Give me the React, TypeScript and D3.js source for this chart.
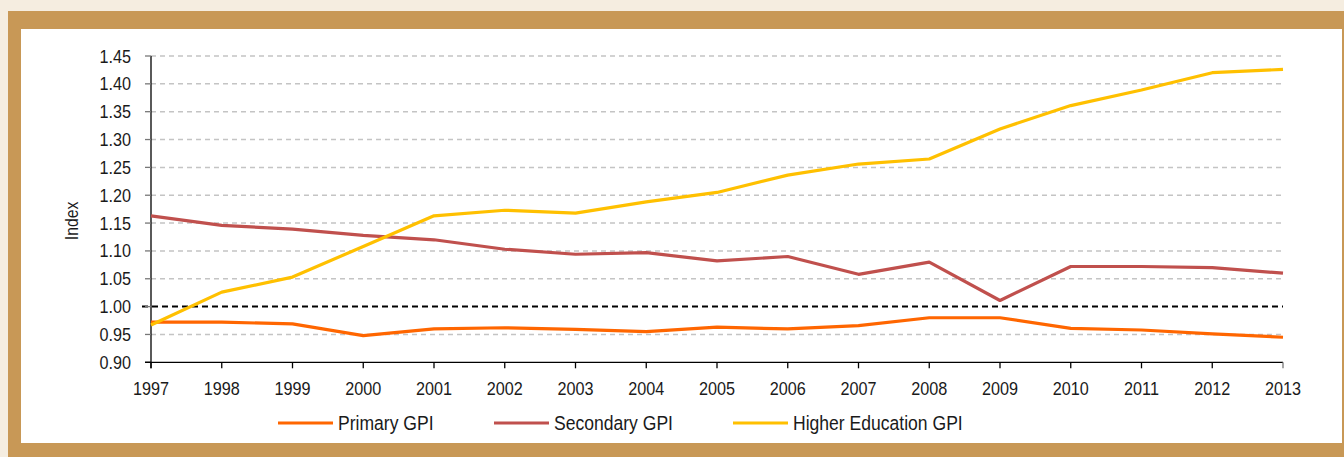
import React from "react";
import * as d3 from "d3";

// Gender parity index by education level
const years = [1997, 1998, 1999, 2000, 2001, 2002, 2003, 2004, 2005, 2006, 2007, 2008, 2009, 2010, 2011, 2012, 2013];
const primaryGPI = [0.972, 0.972, 0.969, 0.948, 0.960, 0.962, 0.959, 0.955, 0.963, 0.960, 0.966, 0.980, 0.980, 0.961, 0.958, 0.951, 0.945];
const secondaryGPI = [1.163, 1.146, 1.139, 1.128, 1.120, 1.103, 1.094, 1.097, 1.082, 1.090, 1.058, 1.080, 1.011, 1.072, 1.072, 1.070, 1.060];
const higherGPI = [0.967, 1.026, 1.053, 1.108, 1.163, 1.173, 1.168, 1.188, 1.205, 1.236, 1.256, 1.265, 1.319, 1.361, 1.389, 1.420, 1.426];
const yTicks = [0.9, 0.95, 1.0, 1.05, 1.1, 1.15, 1.2, 1.25, 1.3, 1.35, 1.4, 1.45];

const series = [
  { name: "Primary GPI", values: primaryGPI, color: "#FF6600" },
  { name: "Secondary GPI", values: secondaryGPI, color: "#C0504D" },
  { name: "Higher Education GPI", values: higherGPI, color: "#FFC000" },
];

const W = 1344;
const H = 457;
const plot = { left: 151, right: 1283, top: 56, bottom: 362.3 };
const font = "'Liberation Sans', Arial, sans-serif";
const textColor = "#1a1a1a";

// Slightly condensed text, placed at (x, y)
function Label(props: {
  x: number;
  y: number;
  size: number;
  anchor?: string;
  rotate?: number;
  sx?: number;
  children: React.ReactNode;
}) {
  const { x, y, size, anchor = "start", rotate = 0, sx = 0.9, children } = props;
  return (
    <text
      transform={`translate(${x},${y}) rotate(${rotate}) scale(${sx},1)`}
      textAnchor={anchor}
      fontSize={size}
      fill={textColor}
    >
      {children}
    </text>
  );
}

export default function App() {
  const x = d3.scaleLinear().domain([years[0], years[years.length - 1]]).range([plot.left, plot.right]);
  const y = d3.scaleLinear().domain([0.9, 1.45]).range([plot.bottom, plot.top]);
  const line = d3
    .line<number>()
    .x((_, i) => x(years[i]))
    .y((d) => y(d));

  const legendX = [278, 494, 733];

  return (
    <svg
      width={W}
      height={H}
      style={{ position: "absolute", left: 0, top: 0, display: "block" }}
      fontFamily={font}
    >
      {/* frame */}
      <rect x={0} y={0} width={W} height={H} fill="#F5EDE0" />
      <rect x={8} y={11} width={W - 8} height={H - 11} fill="#C89856" />
      <rect x={21} y={29} width={1321} height={414} fill="#FFFFFF" />

      {/* gridlines */}
      {yTicks.map((t) =>
        Math.abs(t - 1.0) < 1e-9 || Math.abs(t - 0.9) < 1e-9 ? null : (
          <line
            key={"g" + t}
            x1={plot.left}
            x2={plot.right}
            y1={y(t)}
            y2={y(t)}
            stroke="#C4C4C4"
            strokeWidth={1.5}
            strokeDasharray="5,4"
          />
        )
      )}

      {/* parity reference line */}
      <line
        x1={142}
        x2={plot.right}
        y1={y(1.0)}
        y2={y(1.0)}
        stroke="#000"
        strokeWidth={2}
        strokeDasharray="6,4"
      />

      {/* y axis */}
      <line x1={plot.left} x2={plot.left} y1={plot.top} y2={plot.bottom + 6} stroke="#000" strokeWidth={1.3} />
      {yTicks.map((t) => (
        <g key={"y" + t}>
          <line x1={plot.left - 6} x2={plot.left} y1={y(t)} y2={y(t)} stroke={t === 0.9 ? "#000" : "#777"} strokeWidth={1.3} />
          <Label x={131} y={y(t) + 6.5} size={18} anchor="end">
            {t.toFixed(2)}
          </Label>
        </g>
      ))}
      <Label x={78} y={221} size={17.5} anchor="middle" rotate={-90}>
        Index
      </Label>

      {/* x axis */}
      <line x1={plot.left - 6} x2={plot.right} y1={plot.bottom} y2={plot.bottom} stroke="#000" strokeWidth={1.3} />
      {years.map((yr, i) => (
        <g key={"x" + yr}>
          <line
            x1={x(yr)}
            x2={x(yr)}
            y1={plot.bottom}
            y2={plot.bottom + 6}
            stroke={i === years.length - 1 ? "#777" : "#000"}
            strokeWidth={1.3}
          />
          <Label x={x(yr)} y={395} size={18} anchor="middle">
            {yr}
          </Label>
        </g>
      ))}

      {/* series */}
      {series.map((s) => (
        <path
          key={s.name}
          d={line(s.values) || ""}
          fill="none"
          stroke={s.color}
          strokeWidth={3.2}
          strokeLinejoin="round"
        />
      ))}

      {/* legend */}
      {series.map((s, i) => (
        <g key={"l" + s.name}>
          <line x1={legendX[i]} x2={legendX[i] + 55} y1={423} y2={423} stroke={s.color} strokeWidth={3.2} />
          <Label x={legendX[i] + 60} y={429.5} size={19.5}>
            {s.name}
          </Label>
        </g>
      ))}
    </svg>
  );
}
